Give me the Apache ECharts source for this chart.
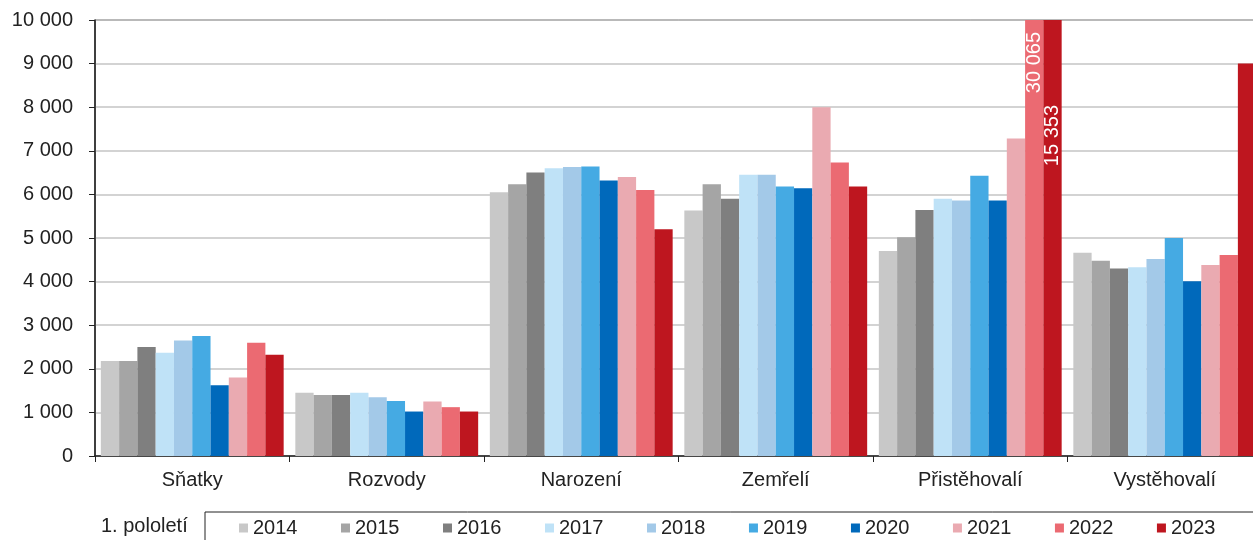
<!DOCTYPE html>
<html><head><meta charset="utf-8">
<script src="https://cdn.jsdelivr.net/npm/echarts@6/dist/echarts.min.js"></script>
<style>html,body{margin:0;padding:0;background:#fff;overflow:hidden;width:1253px;height:540px}#c{width:1275px;height:540px}</style>
</head><body><div id="c"></div>
<script>
const categories = ['Sňatky', 'Rozvody', 'Narození', 'Zemřelí', 'Přistěhovalí', 'Vystěhovalí'];
const years = ['2014', '2015', '2016', '2017', '2018', '2019', '2020', '2021', '2022', '2023'];
const v2014 = [2180, 1450, 6050, 5630, 4700, 4660];
const v2015 = [2180, 1400, 6230, 6230, 5020, 4480];
const v2016 = [2500, 1400, 6500, 5900, 5640, 4300];
const v2017 = [2370, 1450, 6600, 6450, 5900, 4330];
const v2018 = [2650, 1350, 6630, 6450, 5860, 4520];
const v2019 = [2750, 1260, 6640, 6180, 6430, 5000];
const v2020 = [1620, 1020, 6320, 6140, 5860, 4010];
const v2021 = [1800, 1250, 6400, 8000, 7280, 4380];
const v2022 = [2600, 1120, 6100, 6730, 30065, 4610];
const v2023 = [2320, 1020, 5200, 6180, 15353, 9000];
const yTicks = { min: 0, max: 10000, interval: 1000 };
const legendTitle = '1. pololetí';

const seriesValues = [v2014, v2015, v2016, v2017, v2018, v2019, v2020, v2021, v2022, v2023];
const colors = ['#c8c8c8', '#a5a5a5', '#7f7f7f', '#bfe2f7', '#a3c9e8', '#45aae3', '#0069bb', '#eaaab1', '#eb6a72', '#be161f'];
const fmt = v => String(v).replace(/\B(?=(\d{3})+(?!\d))/g, ' ');
const FONT = 'Liberation Sans, Arial, sans-serif';

const series = years.map((y, i) => ({
  name: y,
  type: 'bar',
  barGap: '0%',
  barCategoryGap: '6%',
  itemStyle: { color: colors[i] },
  data: seriesValues[i].map(v => {
    if (v > yTicks.max) {
      return {
        value: v,
        label: {
          show: true, position: 'insideTop', rotate: 90,
          align: 'right', verticalAlign: 'middle',
          distance: i === 8 ? 12 : 85,
          formatter: p => fmt(p.value),
          color: '#fff', fontSize: 20, fontFamily: FONT
        }
      };
    }
    return v;
  })
}));

const chart = echarts.init(document.getElementById('c'));
chart.setOption({
  animation: false,
  textStyle: { fontFamily: FONT },
  grid: { left: 95, top: 20, height: 436, width: 1167, show: true, borderColor: '#333', borderWidth: 1, backgroundColor: 'transparent' },
  xAxis: {
    type: 'category', data: categories,
    axisLine: { lineStyle: { color: '#222', width: 1.5 } },
    axisTick: { show: true, length: 6, lineStyle: { color: '#222' } },
    axisLabel: { color: '#222', fontSize: 20, margin: 14, fontFamily: FONT }
  },
  yAxis: {
    type: 'value', min: yTicks.min, max: yTicks.max, interval: yTicks.interval,
    axisLine: { show: true, lineStyle: { color: '#222', width: 1.5 } },
    axisTick: { show: true, length: 6, lineStyle: { color: '#222' } },
    axisLabel: { color: '#222', fontSize: 20, margin: 22, fontFamily: FONT, formatter: v => fmt(v) },
    splitLine: { lineStyle: { color: '#c4c4c4', width: 1.5 } }
  },
  legend: {
    data: years, left: 205, top: 512, orient: 'horizontal',
    padding: [6, 40, 12, 34], itemGap: 43.5, itemWidth: 9, itemHeight: 9,
    icon: 'rect', borderColor: '#222', borderWidth: 1,
    textStyle: { fontSize: 20, color: '#222', fontFamily: FONT }
  },
  graphic: [{
    type: 'text', left: 101, top: 516,
    style: { text: legendTitle, fontSize: 20, fill: '#222', fontFamily: FONT }
  }],
  series
});
</script></body></html>
